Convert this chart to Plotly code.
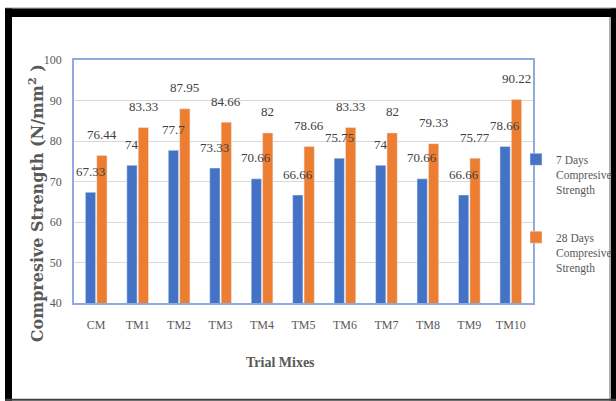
import plotly.graph_objects as go

categories = ["CM", "TM1", "TM2", "TM3", "TM4", "TM5", "TM6", "TM7", "TM8", "TM9", "TM10"]
days7 = [67.33, 74, 77.7, 73.33, 70.66, 66.66, 75.75, 74, 70.66, 66.66, 78.66]
days28 = [76.44, 83.33, 87.95, 84.66, 82, 78.66, 83.33, 82, 79.33, 75.77, 90.22]
labels7 = ["67.33", "74", "77.7", "73.33", "70.66", "66.66", "75.75", "74", "70.66", "66.66", "78.66"]
labels28 = ["76.44", "83.33", "87.95", "84.66", "82", "78.66", "83.33", "82", "79.33", "75.77", "90.22"]
y_ticks = [40, 50, 60, 70, 80, 90, 100]

W, H = 616, 401
L, R, T, B = 74, 533, 59.5, 303
BARGAP = 0.45

NARROW = "Liberation Serif, serif"
GREY = "#595959"
BLUE = "#4472C4"
ORANGE = "#ED7D31"


def px_x(x):
    return (x - L) / (R - L)


def px_y(y):
    return (B - y) / (B - T)


fig = go.Figure()
fig.add_trace(go.Bar(x=categories, y=days7, name="7 Days<br>Compresive<br>Strength",
                     marker_color=BLUE, legendgroup="d7"))
fig.add_trace(go.Bar(x=categories, y=days28, name="28 Days<br>Compresive<br>Strength",
                     marker_color=ORANGE, legendgroup="d28"))

annotations = []
off = (1 - BARGAP) / 4
for i in range(len(categories)):
    for val, lab, sgn in ((days7[i], labels7[i], -1), (days28[i], labels28[i], 1)):
        annotations.append(dict(x=i + sgn * off, y=val, xref="x", yref="y", text=lab,
                                showarrow=False, yanchor="middle", yshift=21,
                                font=dict(family=NARROW, size=13, color="#404040")))

# axis titles
annotations.append(dict(x=px_x(36), y=px_y(203), xref="paper", yref="paper",
                        text="<b>Compresive Strength (N/mm<sup>2</sup> )</b>", textangle=-90,
                        showarrow=False, xanchor="center", yanchor="middle",
                        font=dict(family="DejaVu Serif, serif", size=16, color=GREY)))
annotations.append(dict(x=px_x(280), y=px_y(363), xref="paper", yref="paper",
                        text="<b>Trial Mixes</b>", showarrow=False,
                        xanchor="center", yanchor="middle",
                        font=dict(family="Liberation Serif, serif", size=14, color=GREY)))

shapes = []
def rect(x0, y0, x1, y1, color):
    shapes.append(dict(type="rect", xref="paper", yref="paper", layer="above",
                       x0=px_x(x0), x1=px_x(x1), y0=px_y(y1), y1=px_y(y0),
                       fillcolor=color, line=dict(width=0)))

rect(5, 7, 616, 8, "#A0A0A0")
rect(5, 8, 616, 16.5, "black")
rect(5, 8, 12, 401, "black")
rect(611, 8, 616, 401, "black")
rect(609, 16.5, 611, 401, "#B0B0B0")
rect(5, 399, 616, 401, "#404040")

fig.update_layout(
    width=W, height=H,
    margin=dict(l=L, r=W - R, t=T, b=H - B, pad=0, autoexpand=False),
    paper_bgcolor="white", plot_bgcolor="white",
    barmode="group", bargap=BARGAP, bargroupgap=0.1,
    showlegend=True,
    legend=dict(x=px_x(516), y=px_y(145), xanchor="left", yanchor="top",
                font=dict(family=NARROW, size=11.5, color=GREY), valign="top",
                traceorder="grouped", tracegroupgap=30, itemwidth=30,
                bgcolor="rgba(0,0,0,0)"),
    annotations=annotations,
    shapes=shapes,
)
fig.update_xaxes(
    type="category", showline=True, mirror=True, linecolor="#8FAADC", linewidth=1.5,
    showgrid=False, ticks="", ticklabelstandoff=10,
    tickfont=dict(family=NARROW, size=12, color=GREY),
)
fig.update_yaxes(
    range=[40, 100], tickvals=y_ticks, showline=True, mirror=True, linecolor="#8FAADC",
    linewidth=1.5, showgrid=True, gridcolor="#D9D9D9", gridwidth=1, zeroline=False,
    ticks="", ticklabelstandoff=8,
    tickfont=dict(family=NARROW, size=12, color=GREY),
)

fig.write_html("out.html")
